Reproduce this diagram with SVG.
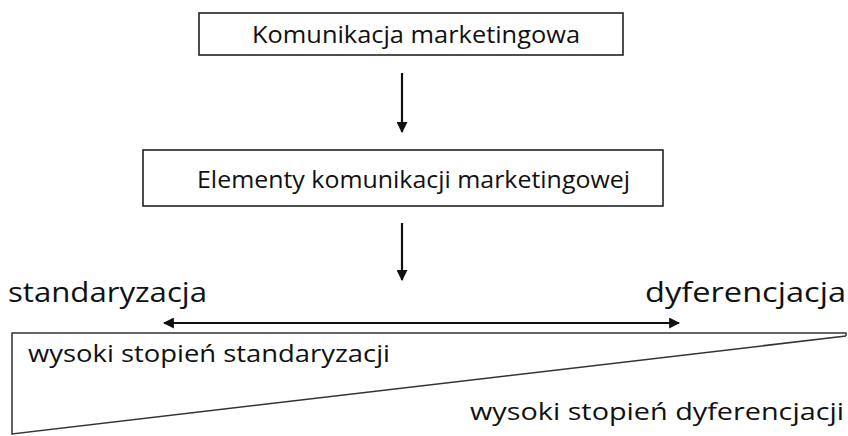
<svg xmlns="http://www.w3.org/2000/svg" width="848" height="436" viewBox="0 0 848 436">
<defs>
<style>
.box{fill:#fff;stroke:#222;stroke-width:1.6}
.t{font-family:"Open Sans","Noto Sans","Liberation Sans",sans-serif;fill:#111}
.c{stroke:#111;stroke-width:2.2;fill:none}
.ln{stroke:#333;stroke-width:1.5;fill:none}
</style>
<marker id="ah" viewBox="0 0 10 10" refX="9" refY="5" markerWidth="5" markerHeight="5" orient="auto-start-reverse" markerUnits="strokeWidth">
<path d="M0,0 L10,5 L0,10 z" fill="#111"/>
</marker>
</defs>
<rect width="848" height="436" fill="#fff"/>
<g id="node-komunikacja">
<rect class="box" x="199" y="13" width="424" height="42"/>
<text class="t" x="252" y="43" font-size="24" textLength="328" lengthAdjust="spacingAndGlyphs">Komunikacja marketingowa</text>
</g>
<g id="node-elementy">
<rect class="box" x="143" y="150" width="520" height="56"/>
<text class="t" x="197" y="188" font-size="24" textLength="433" lengthAdjust="spacingAndGlyphs">Elementy komunikacji marketingowej</text>
</g>
<g id="node-scale">
<text class="t" x="8" y="302" font-size="28" textLength="199" lengthAdjust="spacingAndGlyphs">standaryzacja</text>
<text class="t" x="645" y="302" font-size="28" textLength="201" lengthAdjust="spacingAndGlyphs">dyferencjacja</text>
</g>
<g id="node-triangle">
<polyline class="ln" points="846,336 846,333 12,333 12,434 846,336"/>
<text class="t" x="28" y="362" font-size="24" textLength="362" lengthAdjust="spacingAndGlyphs">wysoki stopień standaryzacji</text>
<text class="t" x="470" y="420" font-size="24" textLength="374" lengthAdjust="spacingAndGlyphs">wysoki stopień dyferencjacji</text>
</g>
<g id="connectors">
<line class="c" x1="402" y1="73" x2="402" y2="132" marker-end="url(#ah)"/>
<line class="c" x1="402" y1="223" x2="402" y2="280" marker-end="url(#ah)"/>
<line class="c" x1="164" y1="323" x2="679" y2="323" marker-start="url(#ah)" marker-end="url(#ah)"/>
</g>
</svg>
